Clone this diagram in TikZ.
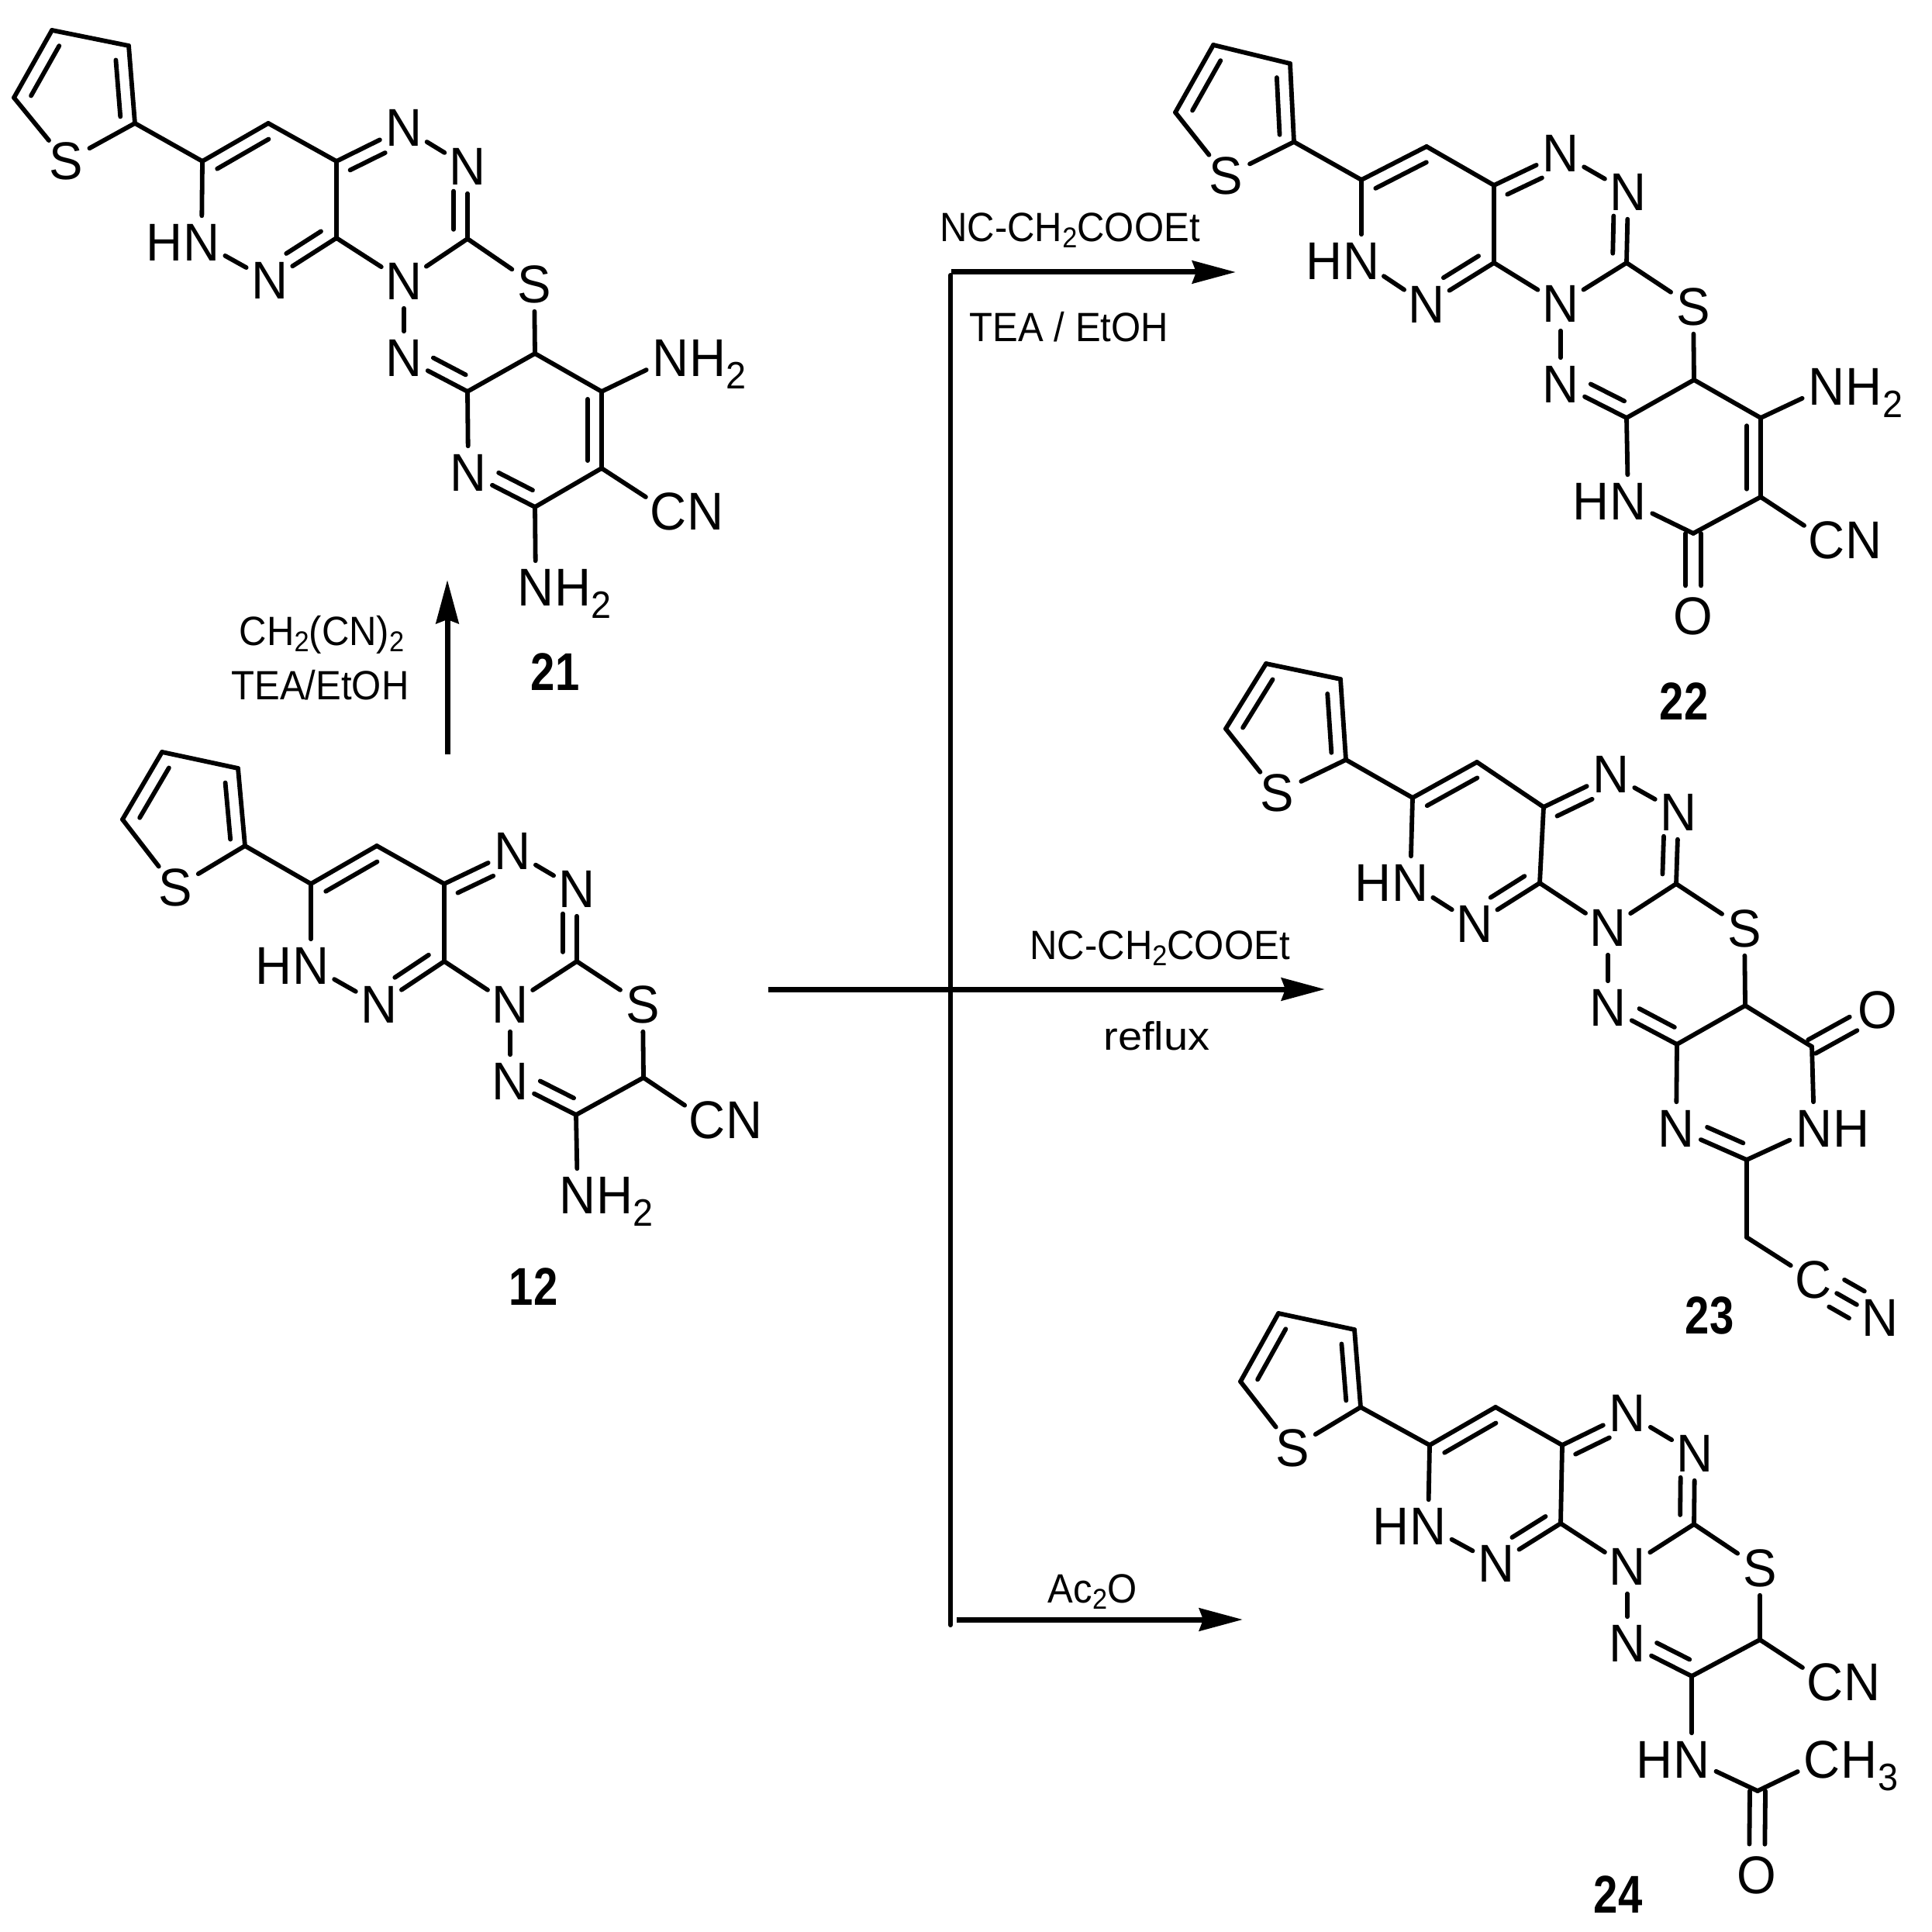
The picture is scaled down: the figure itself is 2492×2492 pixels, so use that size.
\documentclass[tikz,border=0pt]{standalone}
\usepackage{fontspec}
\setmainfont[FakeStretch=.95]{Liberation Sans}
\usepackage{tikz}
\usetikzlibrary{calc}
\usetikzlibrary{positioning}
\usetikzlibrary{arrows.meta}

\newcommand{\subi}[1]{\raisebox{-.155cm}{\fontsize{14}{14}\selectfont #1}}
\newcommand{\subr}[1]{\raisebox{-.085cm}{\fontsize{10.5}{11}\selectfont #1}}
\newcommand{\inbond}[6][.18cm]{\draw[bond] ($(#2)!#5!(#3)!#1!#4:(#3)$) -- ($(#2)!#6!(#3)!#1!#4:(#3)$);}

\tikzset{
    vert/.style={coordinate},
    atom/.style={circle, inner sep=0pt, minimum size=.68cm, text height=.47cm, text depth=0pt, font=\fontsize{19.5}{20}\selectfont},
    part/.style={inner sep=0pt, text height=.47cm, text depth=0pt, font=\fontsize{19.5}{20}\selectfont},
    tag/.style={inner sep=0pt, text height=.47cm, text depth=0pt, font=\fontsize{19.5}{20}\selectfont\bfseries\addfontfeature{FakeStretch=.82}},
    reag/.style={inner sep=0pt, text height=.36cm, text depth=0pt, font=\fontsize{15}{16}\selectfont\addfontfeature{FakeStretch=.93}},
    bond/.style={draw=black, line width=.058cm, line cap=round},
    route/.style={draw=black, line width=.07cm, -{Stealth[length=.56cm, width=.29cm, inset=.05cm]}},
    trunk/.style={draw=black, line width=.06cm, line cap=round}
}

\begin{document}
\begin{tikzpicture}[x=.01cm, y=-.01cm, every edge/.style={draw=black, line width=.058cm, line cap=round}]
            \useasboundingbox (0,0) rectangle (2492,2492);

            \begin{scope}
                \node[vert] (a0) at (67,39) {};
                \node[vert] (a1) at (166,59) {};
                \node[vert] (a2) at (174,159) {};
                \node[vert] (a3) at (18,126) {};
                \node[atom] (a4) at (85,208) {S};
                \node[vert] (a5) at (261,208) {};
                \node[vert] (a6) at (346,159) {};
                \node[vert] (a7) at (434,208) {};
                \node[vert] (a8) at (434,307) {};
                \node[atom] (a9) at (348,362) {N};
                \node[atom] (a10) at (260,313) {N};
                \node[part, left=-.105cm of a10] (a30) {H};
                \node[atom] (a11) at (521,165) {N};
                \node[atom] (a12) at (603,215) {N};
                \node[vert] (a13) at (603,308) {};
                \node[atom] (a14) at (521,363) {N};
                \node[atom] (a15) at (689,367) {S};
                \node[atom] (a16) at (521,462) {N};
                \node[vert] (a17) at (603,505) {};
                \node[vert] (a18) at (690,456) {};
                \node[vert] (a19) at (776,505) {};
                \node[vert] (a20) at (776,604) {};
                \node[vert] (a21) at (690,654) {};
                \node[atom] (a22) at (604,610) {N};
                \node[atom] (a23) at (865,462) {N};
                \node[part, right=-.105cm of a23] (a24) {H\subi{2}};
                \node[atom] (a25) at (862,660) {C};
                \node[part, right=-.105cm of a25] (a26) {N};
                \node[atom] (a27) at (691,758) {N};
                \node[part, right=-.105cm of a27] (a28) {H\subi{2}};
                \node[tag] (a29) at (716,867) {21};
            \end{scope}

            \begin{scope}
                \path [-] (a0) edge (a1);
                \path [-] (a1) edge (a2);
                \path [-] (a2) edge (a4);
                \path [-] (a4) edge (a3);
                \path [-] (a3) edge (a0);
                \path [-] (a2) edge (a5);
                \path [-] (a5) edge (a6);
                \path [-] (a6) edge (a7);
                \path [-] (a7) edge (a8);
                \path [-] (a8) edge (a9);
                \path [-] (a9) edge (a10);
                \path [-] (a10) edge (a5);
                \path [-] (a7) edge (a11);
                \path [-] (a11) edge (a12);
                \path [-] (a12) edge (a13);
                \path [-] (a13) edge (a14);
                \path [-] (a14) edge (a8);
                \path [-] (a13) edge (a15);
                \path [-] (a14) edge (a16);
                \path [-] (a15) edge (a18);
                \path [-] (a16) edge (a17);
                \path [-] (a17) edge (a18);
                \path [-] (a18) edge (a19);
                \path [-] (a19) edge (a20);
                \path [-] (a20) edge (a21);
                \path [-] (a21) edge (a22);
                \path [-] (a22) edge (a17);
                \path [-] (a19) edge (a23);
                \path [-] (a20) edge (a25);
                \path [-] (a21) edge (a27);
                \inbond{a2}{a1}{90}{.1}{.83}
                \inbond{a3}{a0}{-90}{.13}{.87}
                \inbond{a5}{a6}{-90}{.12}{.9}
                \inbond{a7}{a11}{-90}{.11}{.63}
                \inbond{a8}{a9}{-90}{.12}{.64}
                \inbond{a13}{a12}{90}{.13}{.66}
                \inbond{a17}{a16}{-90}{.13}{.64}
                \inbond{a20}{a19}{90}{.1}{.9}
                \inbond{a21}{a22}{-90}{.13}{.64}
            \end{scope}

            \begin{scope}
                \node[vert] (b0) at (209,970) {};
                \node[vert] (b1) at (307,991) {};
                \node[vert] (b2) at (316,1091) {};
                \node[vert] (b3) at (158,1057) {};
                \node[atom] (b4) at (226,1145) {S};
                \node[vert] (b5) at (401,1140) {};
                \node[vert] (b6) at (486,1091) {};
                \node[vert] (b7) at (573,1140) {};
                \node[vert] (b8) at (573,1240) {};
                \node[atom] (b9) at (489,1296) {N};
                \node[atom] (b10) at (401,1246) {N};
                \node[part, left=-.105cm of b10] (b24) {H};
                \node[atom] (b11) at (661,1098) {N};
                \node[atom] (b12) at (744,1147) {N};
                \node[vert] (b13) at (744,1240) {};
                \node[atom] (b14) at (658,1296) {N};
                \node[atom] (b15) at (829,1296) {S};
                \node[atom] (b16) at (658,1395) {N};
                \node[vert] (b17) at (743,1438) {};
                \node[vert] (b18) at (830,1390) {};
                \node[atom] (b19) at (912,1445) {C};
                \node[part, right=-.105cm of b19] (b20) {N};
                \node[atom] (b21) at (745,1542) {N};
                \node[part, right=-.105cm of b21] (b22) {H\subi{2}};
                \node[tag] (b23) at (688,1660) {12};
            \end{scope}

            \begin{scope}
                \path [-] (b0) edge (b1);
                \path [-] (b1) edge (b2);
                \path [-] (b2) edge (b4);
                \path [-] (b4) edge (b3);
                \path [-] (b3) edge (b0);
                \path [-] (b2) edge (b5);
                \path [-] (b5) edge (b6);
                \path [-] (b6) edge (b7);
                \path [-] (b7) edge (b8);
                \path [-] (b8) edge (b9);
                \path [-] (b9) edge (b10);
                \path [-] (b10) edge (b5);
                \path [-] (b7) edge (b11);
                \path [-] (b11) edge (b12);
                \path [-] (b12) edge (b13);
                \path [-] (b13) edge (b14);
                \path [-] (b14) edge (b8);
                \path [-] (b13) edge (b15);
                \path [-] (b14) edge (b16);
                \path [-] (b15) edge (b18);
                \path [-] (b16) edge (b17);
                \path [-] (b17) edge (b18);
                \path [-] (b18) edge (b19);
                \path [-] (b17) edge (b21);
                \inbond{b2}{b1}{90}{.1}{.83}
                \inbond{b3}{b0}{-90}{.13}{.87}
                \inbond{b5}{b6}{-90}{.12}{.9}
                \inbond{b7}{b11}{-90}{.11}{.63}
                \inbond{b8}{b9}{-90}{.12}{.64}
                \inbond{b13}{b12}{90}{.13}{.66}
                \inbond{b17}{b16}{-90}{.13}{.64}
            \end{scope}

            \begin{scope}
                \node[vert] (c0) at (1565,58) {};
                \node[vert] (c1) at (1664,82) {};
                \node[vert] (c2) at (1669,183) {};
                \node[vert] (c3) at (1516,145) {};
                \node[atom] (c4) at (1581,227) {S};
                \node[vert] (c5) at (1756,232) {};
                \node[vert] (c6) at (1840,189) {};
                \node[vert] (c7) at (1927,239) {};
                \node[vert] (c8) at (1927,339) {};
                \node[atom] (c9) at (1840,393) {N};
                \node[atom] (c10) at (1756,337) {N};
                \node[part, left=-.105cm of c10] (c30) {H};
                \node[atom] (c11) at (2013,198) {N};
                \node[atom] (c12) at (2100,248) {N};
                \node[vert] (c13) at (2098,339) {};
                \node[atom] (c14) at (2013,392) {N};
                \node[atom] (c15) at (2184,396) {S};
                \node[atom] (c16) at (2013,496) {N};
                \node[vert] (c17) at (2098,539) {};
                \node[vert] (c18) at (2185,490) {};
                \node[vert] (c19) at (2271,539) {};
                \node[vert] (c20) at (2271,641) {};
                \node[vert] (c21) at (2184,688) {};
                \node[atom] (c22) at (2100,647) {N};
                \node[part, left=-.105cm of c22] (c29) {H};
                \node[atom] (c23) at (2356,499) {N};
                \node[part, right=-.105cm of c23] (c24) {H\subi{2}};
                \node[atom] (c25) at (2356,697) {C};
                \node[part, right=-.105cm of c25] (c26) {N};
                \node[atom] (c27) at (2184,795) {O};
                \node[tag] (c28) at (2172,905) {22};
            \end{scope}

            \begin{scope}
                \path [-] (c0) edge (c1);
                \path [-] (c1) edge (c2);
                \path [-] (c2) edge (c4);
                \path [-] (c4) edge (c3);
                \path [-] (c3) edge (c0);
                \path [-] (c2) edge (c5);
                \path [-] (c5) edge (c6);
                \path [-] (c6) edge (c7);
                \path [-] (c7) edge (c8);
                \path [-] (c8) edge (c9);
                \path [-] (c9) edge (c10);
                \path [-] (c10) edge (c5);
                \path [-] (c7) edge (c11);
                \path [-] (c11) edge (c12);
                \path [-] (c12) edge (c13);
                \path [-] (c13) edge (c14);
                \path [-] (c14) edge (c8);
                \path [-] (c13) edge (c15);
                \path [-] (c14) edge (c16);
                \path [-] (c15) edge (c18);
                \path [-] (c16) edge (c17);
                \path [-] (c17) edge (c18);
                \path [-] (c18) edge (c19);
                \path [-] (c19) edge (c20);
                \path [-] (c20) edge (c21);
                \path [-] (c21) edge (c22);
                \path [-] (c22) edge (c17);
                \path [-] (c19) edge (c23);
                \path [-] (c20) edge (c25);
                \inbond{c2}{c1}{90}{.1}{.83}
                \inbond{c3}{c0}{-90}{.13}{.87}
                \inbond{c5}{c6}{-90}{.12}{.9}
                \inbond{c7}{c11}{-90}{.11}{.63}
                \inbond{c8}{c9}{-90}{.12}{.64}
                \inbond{c13}{c12}{90}{.13}{.66}
                \inbond{c17}{c16}{-90}{.13}{.64}
                \inbond{c20}{c19}{90}{.1}{.9}
                \inbond[.1cm]{c21}{c27}{90}{0}{.63}
                \inbond[.1cm]{c21}{c27}{-90}{0}{.63}
            \end{scope}

            \begin{scope}
                \node[vert] (d0) at (1633,856) {};
                \node[vert] (d1) at (1729,876) {};
                \node[vert] (d2) at (1736,980) {};
                \node[vert] (d3) at (1581,940) {};
                \node[atom] (d4) at (1647,1023) {S};
                \node[vert] (d5) at (1822,1029) {};
                \node[vert] (d6) at (1905,983) {};
                \node[vert] (d7) at (1991,1041) {};
                \node[vert] (d8) at (1986,1139) {};
                \node[atom] (d9) at (1902,1192) {N};
                \node[atom] (d10) at (1819,1139) {N};
                \node[part, left=-.105cm of d10] (d29) {H};
                \node[atom] (d11) at (2078,999) {N};
                \node[atom] (d12) at (2165,1048) {N};
                \node[vert] (d13) at (2162,1140) {};
                \node[atom] (d14) at (2074,1197) {N};
                \node[atom] (d15) at (2250,1198) {S};
                \node[atom] (d16) at (2074,1300) {N};
                \node[vert] (d17) at (2163,1347) {};
                \node[vert] (d18) at (2251,1297) {};
                \node[vert] (d19) at (2337,1350) {};
                \node[atom] (d20) at (2422,1303) {O};
                \node[atom] (d21) at (2340,1456) {N};
                \node[part, right=-.105cm of d21] (d22) {H};
                \node[vert] (d23) at (2253,1496) {};
                \node[atom] (d24) at (2162,1456) {N};
                \node[vert] (d25) at (2253,1596) {};
                \node[atom] (d26) at (2339,1651) {C};
                \node[atom] (d27) at (2425,1700) {N};
                \node[tag] (d28) at (2205,1697) {23};
            \end{scope}

            \begin{scope}
                \path [-] (d0) edge (d1);
                \path [-] (d1) edge (d2);
                \path [-] (d2) edge (d4);
                \path [-] (d4) edge (d3);
                \path [-] (d3) edge (d0);
                \path [-] (d2) edge (d5);
                \path [-] (d5) edge (d6);
                \path [-] (d6) edge (d7);
                \path [-] (d7) edge (d8);
                \path [-] (d8) edge (d9);
                \path [-] (d9) edge (d10);
                \path [-] (d10) edge (d5);
                \path [-] (d7) edge (d11);
                \path [-] (d11) edge (d12);
                \path [-] (d12) edge (d13);
                \path [-] (d13) edge (d14);
                \path [-] (d14) edge (d8);
                \path [-] (d13) edge (d15);
                \path [-] (d14) edge (d16);
                \path [-] (d15) edge (d18);
                \path [-] (d16) edge (d17);
                \path [-] (d17) edge (d18);
                \path [-] (d18) edge (d19);
                \path [-] (d19) edge (d21);
                \path [-] (d21) edge (d23);
                \path [-] (d23) edge (d24);
                \path [-] (d24) edge (d17);
                \path [-] (d23) edge (d25);
                \path [-] (d25) edge (d26);
                \inbond{d2}{d1}{90}{.1}{.83}
                \inbond{d3}{d0}{-90}{.13}{.87}
                \inbond{d5}{d6}{-90}{.12}{.9}
                \inbond{d7}{d11}{-90}{.11}{.63}
                \inbond{d8}{d9}{-90}{.12}{.64}
                \inbond{d13}{d12}{90}{.13}{.66}
                \inbond{d17}{d16}{-90}{.13}{.64}
                \inbond{d23}{d24}{-90}{.13}{.64}
                \inbond[.1cm]{d19}{d20}{90}{0}{.63}
                \inbond[.1cm]{d19}{d20}{-90}{0}{.63}
                \inbond[.2cm]{d26}{d27}{90}{.35}{.65}
                \inbond[0cm]{d26}{d27}{90}{.35}{.65}
                \inbond[.2cm]{d26}{d27}{-90}{.35}{.65}
            \end{scope}

            \begin{scope}
                \node[vert] (e0) at (1649,1694) {};
                \node[vert] (e1) at (1747,1715) {};
                \node[vert] (e2) at (1755,1815) {};
                \node[vert] (e3) at (1600,1782) {};
                \node[atom] (e4) at (1667,1868) {S};
                \node[vert] (e5) at (1844,1864) {};
                \node[vert] (e6) at (1929,1815) {};
                \node[vert] (e7) at (2015,1864) {};
                \node[vert] (e8) at (2013,1965) {};
                \node[atom] (e9) at (1930,2017) {N};
                \node[atom] (e10) at (1842,1969) {N};
                \node[part, left=-.105cm of e10] (e28) {H};
                \node[atom] (e11) at (2099,1823) {N};
                \node[atom] (e12) at (2186,1875) {N};
                \node[vert] (e13) at (2185,1966) {};
                \node[atom] (e14) at (2099,2021) {N};
                \node[atom] (e15) at (2270,2023) {S};
                \node[atom] (e16) at (2099,2120) {N};
                \node[vert] (e17) at (2182,2162) {};
                \node[vert] (e18) at (2270,2115) {};
                \node[atom] (e19) at (2354,2170) {C};
                \node[part, right=-.105cm of e19] (e20) {N};
                \node[atom] (e21) at (2182,2270) {N};
                \node[part, left=-.105cm of e21] (e22) {H};
                \node[vert] (e23) at (2267,2310) {};
                \node[atom] (e24) at (2350,2270) {C};
                \node[part, right=-.105cm of e24] (e25) {H\subi{3}};
                \node[atom] (e26) at (2266,2419) {O};
                \node[tag] (e27) at (2087,2444) {24};
            \end{scope}

            \begin{scope}
                \path [-] (e0) edge (e1);
                \path [-] (e1) edge (e2);
                \path [-] (e2) edge (e4);
                \path [-] (e4) edge (e3);
                \path [-] (e3) edge (e0);
                \path [-] (e2) edge (e5);
                \path [-] (e5) edge (e6);
                \path [-] (e6) edge (e7);
                \path [-] (e7) edge (e8);
                \path [-] (e8) edge (e9);
                \path [-] (e9) edge (e10);
                \path [-] (e10) edge (e5);
                \path [-] (e7) edge (e11);
                \path [-] (e11) edge (e12);
                \path [-] (e12) edge (e13);
                \path [-] (e13) edge (e14);
                \path [-] (e14) edge (e8);
                \path [-] (e13) edge (e15);
                \path [-] (e14) edge (e16);
                \path [-] (e15) edge (e18);
                \path [-] (e16) edge (e17);
                \path [-] (e17) edge (e18);
                \path [-] (e18) edge (e19);
                \path [-] (e17) edge (e21);
                \path [-] (e21) edge (e23);
                \path [-] (e23) edge (e24);
                \inbond{e2}{e1}{90}{.1}{.83}
                \inbond{e3}{e0}{-90}{.13}{.87}
                \inbond{e5}{e6}{-90}{.12}{.9}
                \inbond{e7}{e11}{-90}{.11}{.63}
                \inbond{e8}{e9}{-90}{.12}{.64}
                \inbond{e13}{e12}{90}{.13}{.66}
                \inbond{e17}{e16}{-90}{.13}{.64}
                \inbond[.1cm]{e23}{e26}{90}{0}{.63}
                \inbond[.1cm]{e23}{e26}{-90}{0}{.63}
            \end{scope}

            \node[reag] (r0) at (415,814) {CH\subr{2}(CN)\subr{2}};
            \node[reag] (r1) at (413,884) {TEA/EtOH};
            \node[reag] (r2) at (1380,293) {NC-CH\subr{2}COOEt};
            \node[reag] (r3) at (1379,422) {TEA / EtOH};
            \node[reag] (r4) at (1496,1219) {NC-CH\subr{2}COOEt};
            \node[reag, font=\fontsize{14.5}{16}\selectfont\addfontfeature{FakeStretch=1.1}] (r5) at (1492,1336) {reflux};
            \node[reag] (r6) at (1409,2049) {Ac\subr{2}O};

            \coordinate (p0) at (577,973);
            \coordinate (p1) at (577,748);
            \coordinate (p2) at (991,1276);
            \coordinate (p3) at (1709,1276);
            \coordinate (p4) at (1226,355);
            \coordinate (p5) at (1226,2096);
            \coordinate (p6) at (1227,351);
            \coordinate (p7) at (1594,351);
            \coordinate (p8) at (1234,2089);
            \coordinate (p9) at (1603,2089);

            \draw[route] (p0) -- (p1);
            \draw[route] (p2) -- (p3);
            \draw[trunk] (p4) -- (p5);
            \draw[route] (p6) -- (p7);
            \draw[route] (p8) -- (p9);
\end{tikzpicture}
\end{document}
